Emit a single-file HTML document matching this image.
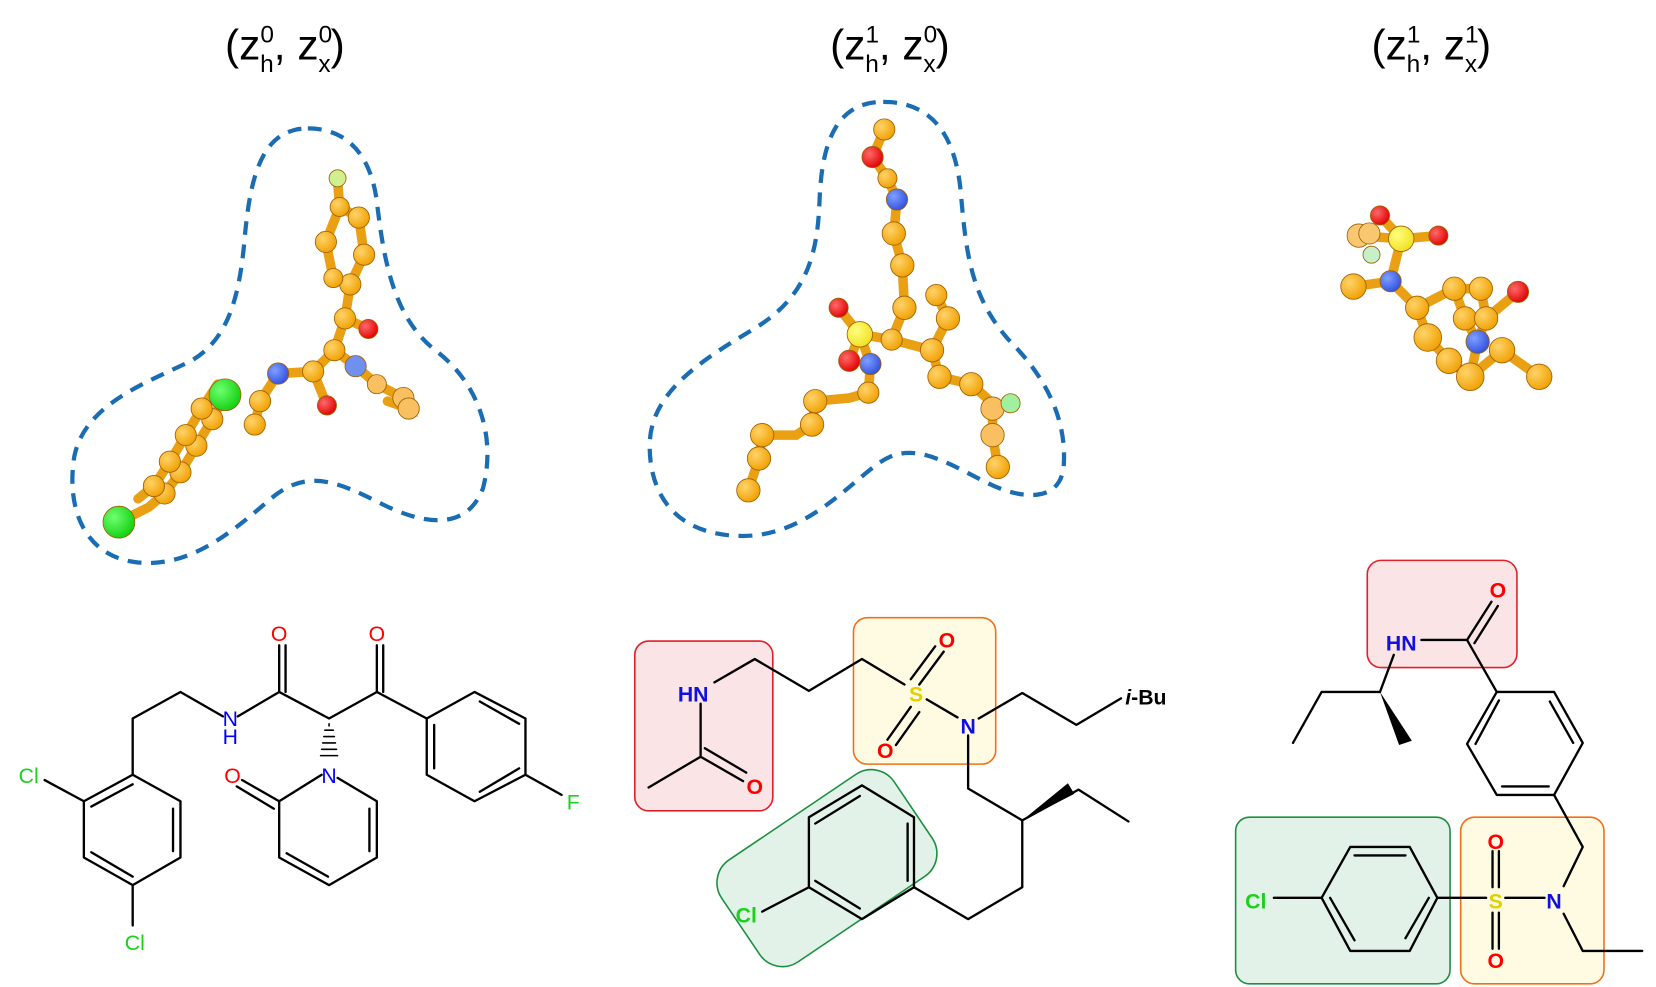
<!DOCTYPE html>
<html><head><meta charset="utf-8"><style>
html,body{margin:0;padding:0;background:#fff;width:1656px;height:987px;overflow:hidden}
svg{display:block}
.b{stroke:#000;stroke-width:2.2;fill:none;stroke-linecap:round;stroke-linejoin:round}
.t{font-family:"Liberation Sans",sans-serif}
.bd{stroke:#e9a012;stroke-width:9;stroke-linecap:round;fill:none}
</style></head><body>
<svg width="1656" height="987" viewBox="0 0 1560 930" preserveAspectRatio="none" xmlns="http://www.w3.org/2000/svg">
<defs>
<radialGradient id="go" cx="35%" cy="35%" r="70%"><stop offset="0" stop-color="#ffd36a"/><stop offset="1" stop-color="#f0a000"/></radialGradient>
<radialGradient id="gr" cx="35%" cy="35%" r="70%"><stop offset="0" stop-color="#ff6a6a"/><stop offset="1" stop-color="#e00000"/></radialGradient>
<radialGradient id="gb" cx="35%" cy="35%" r="70%"><stop offset="0" stop-color="#7fa0ff"/><stop offset="1" stop-color="#3050e0"/></radialGradient>
<radialGradient id="gg" cx="35%" cy="35%" r="70%"><stop offset="0" stop-color="#70ff70"/><stop offset="1" stop-color="#10d010"/></radialGradient>
<radialGradient id="gy" cx="35%" cy="35%" r="70%"><stop offset="0" stop-color="#ffff80"/><stop offset="1" stop-color="#f0e020"/></radialGradient>
</defs>

<!-- titles -->
<g fill="#000">
<text x="212" y="56" font-size="40" font-family="Liberation Sans, sans-serif">(z<tspan dy="-16" font-size="23">0</tspan><tspan dx="-13" dy="28" font-size="23">h</tspan><tspan dy="-12" font-size="40">, z</tspan><tspan dy="-16" font-size="23">0</tspan><tspan dx="-13" dy="28" font-size="23">x</tspan><tspan dy="-12" font-size="40">)</tspan></text>
<text x="782" y="56" font-size="40" font-family="Liberation Sans, sans-serif">(z<tspan dy="-16" font-size="23">1</tspan><tspan dx="-13" dy="28" font-size="23">h</tspan><tspan dy="-12" font-size="40">, z</tspan><tspan dy="-16" font-size="23">0</tspan><tspan dx="-13" dy="28" font-size="23">x</tspan><tspan dy="-12" font-size="40">)</tspan></text>
<text x="1292" y="56" font-size="40" font-family="Liberation Sans, sans-serif">(z<tspan dy="-16" font-size="23">1</tspan><tspan dx="-13" dy="28" font-size="23">h</tspan><tspan dy="-12" font-size="40">, z</tspan><tspan dy="-16" font-size="23">1</tspan><tspan dx="-13" dy="28" font-size="23">x</tspan><tspan dy="-12" font-size="40">)</tspan></text>
</g>

<!-- dashed blobs -->
<path d="M290,121 C330,121 350,150 355,190 C362,250 372,300 410,330 C450,360 468,410 455,460 C440,500 400,495 360,475 C320,455 290,440 255,470 C220,500 180,535 130,530 C80,525 62,480 70,430 C80,380 140,360 180,340 C215,320 225,280 230,230 C235,170 245,121 290,121 Z" fill="none" stroke="#1a6db3" stroke-width="4" stroke-dasharray="13 9"/>
<path d="M832,96 C880,96 900,130 905,180 C910,240 915,280 950,320 C990,360 1005,400 1002,440 C998,475 960,470 930,455 C890,435 860,415 830,435 C800,455 760,505 700,505 C640,505 612,470 612,420 C612,370 660,340 710,310 C760,280 770,240 772,190 C774,130 790,96 832,96 Z" fill="none" stroke="#1a6db3" stroke-width="4" stroke-dasharray="13 9"/>

<!-- 3D molecule 1 -->
<g>
<path class="bd" d="M318,170 L320,195 L338,205 L343,240 L330,268 L314,262 L307,228 L320,195 M330,268 L325,300 L347,310 M325,300 L315,330 L295,350 L308,382 M295,350 L262,352 L245,378 L240,400 M315,330 L335,345 L355,362 L380,375 L385,385 L365,378 M212,372 L200,395 L185,420 L170,445 L155,465 L140,478 L112,492 M205,362 L190,385 L175,410 L160,435 L145,458 L130,470"/>
<g stroke="#a06000" stroke-width="0.8">
<circle cx="320" cy="195" r="9" fill="url(#go)"/><circle cx="338" cy="205" r="10" fill="url(#go)"/><circle cx="343" cy="240" r="10" fill="url(#go)"/><circle cx="330" cy="268" r="10" fill="url(#go)"/><circle cx="314" cy="262" r="9" fill="url(#go)"/><circle cx="307" cy="228" r="10" fill="url(#go)"/>
<circle cx="325" cy="300" r="10" fill="url(#go)"/><circle cx="315" cy="330" r="10" fill="url(#go)"/><circle cx="295" cy="350" r="10" fill="url(#go)"/><circle cx="245" cy="378" r="10" fill="url(#go)"/><circle cx="240" cy="400" r="10" fill="url(#go)"/>
<circle cx="355" cy="362" r="9" fill="#f8c060"/><circle cx="380" cy="375" r="10" fill="#f8c060"/><circle cx="385" cy="385" r="10" fill="#f8c060"/>
<circle cx="200" cy="395" r="10" fill="url(#go)"/><circle cx="185" cy="420" r="10" fill="url(#go)"/><circle cx="170" cy="445" r="10" fill="url(#go)"/><circle cx="155" cy="465" r="10" fill="url(#go)"/><circle cx="190" cy="385" r="10" fill="url(#go)"/><circle cx="175" cy="410" r="10" fill="url(#go)"/><circle cx="160" cy="435" r="10" fill="url(#go)"/><circle cx="145" cy="458" r="10" fill="url(#go)"/>
<circle cx="318" cy="168" r="8" fill="#d0f090"/>
<circle cx="347" cy="310" r="9" fill="url(#gr)"/><circle cx="308" cy="382" r="9" fill="url(#gr)"/>
<circle cx="262" cy="352" r="10" fill="url(#gb)"/><circle cx="335" cy="345" r="10" fill="#7090f0"/>
<circle cx="212" cy="372" r="15" fill="url(#gg)"/><circle cx="112" cy="492" r="15" fill="url(#gg)"/>
</g>
</g>

<!-- 3D molecule 2 -->
<g>
<path class="bd" d="M833,122 L822,148 L836,168 L845,188 L842,220 L850,250 L852,290 L840,320 L810,315 L790,290 M810,315 L800,340 M810,315 L820,343 L818,370 L800,375 L768,378 L765,400 L750,410 L718,410 L715,432 L705,462 M840,320 L878,330 L893,300 L882,278 M878,330 L885,355 L915,362 L935,380 L935,410 L940,440"/>
<g stroke="#a06000" stroke-width="0.8">
<circle cx="833" cy="122" r="10" fill="url(#go)"/><circle cx="836" cy="168" r="9" fill="url(#go)"/><circle cx="842" cy="220" r="11" fill="url(#go)"/><circle cx="850" cy="250" r="11" fill="url(#go)"/><circle cx="852" cy="290" r="11" fill="url(#go)"/><circle cx="840" cy="320" r="10" fill="url(#go)"/><circle cx="878" cy="330" r="11" fill="url(#go)"/><circle cx="893" cy="300" r="11" fill="url(#go)"/><circle cx="882" cy="278" r="10" fill="url(#go)"/><circle cx="885" cy="355" r="11" fill="url(#go)"/><circle cx="915" cy="362" r="11" fill="url(#go)"/><circle cx="935" cy="385" r="11" fill="#f8c060"/><circle cx="935" cy="410" r="11" fill="#f8c060"/><circle cx="940" cy="440" r="11" fill="url(#go)"/>
<circle cx="818" cy="370" r="10" fill="url(#go)"/><circle cx="768" cy="378" r="11" fill="url(#go)"/><circle cx="765" cy="400" r="11" fill="url(#go)"/><circle cx="718" cy="410" r="11" fill="url(#go)"/><circle cx="715" cy="432" r="11" fill="url(#go)"/><circle cx="705" cy="462" r="11" fill="url(#go)"/>
<circle cx="952" cy="380" r="9" fill="#a0f0a0"/>
<circle cx="822" cy="148" r="10" fill="url(#gr)"/><circle cx="790" cy="290" r="9" fill="url(#gr)"/><circle cx="800" cy="340" r="10" fill="url(#gr)"/>
<circle cx="845" cy="188" r="10" fill="url(#gb)"/><circle cx="820" cy="343" r="10" fill="url(#gb)"/>
<circle cx="810" cy="315" r="12" fill="url(#gy)"/>
</g>
</g>

<!-- 3D molecule 3 -->
<g>
<path class="bd" d="M1300,203 L1320,225 L1355,222 M1280,222 L1320,225 L1310,265 L1275,270 M1310,265 L1335,290 L1370,272 L1395,272 L1400,300 L1430,275 M1335,290 L1345,318 L1365,340 L1385,355 L1415,330 L1450,355 M1370,272 L1380,300 L1392,322 L1385,355 M1400,300 L1392,322"/>
<g stroke="#a06000" stroke-width="0.8">
<circle cx="1280" cy="222" r="11" fill="#f8c870"/><circle cx="1292" cy="240" r="8" fill="#c8f0c8"/><circle cx="1290" cy="220" r="10" fill="#f8c870"/>
<circle cx="1275" cy="270" r="12" fill="url(#go)"/><circle cx="1335" cy="290" r="11" fill="url(#go)"/><circle cx="1370" cy="272" r="11" fill="url(#go)"/><circle cx="1395" cy="272" r="11" fill="url(#go)"/><circle cx="1380" cy="300" r="11" fill="url(#go)"/><circle cx="1400" cy="300" r="11" fill="url(#go)"/><circle cx="1345" cy="318" r="13" fill="url(#go)"/><circle cx="1365" cy="340" r="12" fill="url(#go)"/><circle cx="1385" cy="355" r="13" fill="url(#go)"/><circle cx="1415" cy="330" r="12" fill="url(#go)"/><circle cx="1450" cy="355" r="12" fill="url(#go)"/>
<circle cx="1300" cy="203" r="9" fill="url(#gr)"/><circle cx="1355" cy="222" r="9" fill="url(#gr)"/><circle cx="1430" cy="275" r="10" fill="url(#gr)"/>
<circle cx="1310" cy="265" r="10" fill="url(#gb)"/><circle cx="1392" cy="322" r="11" fill="url(#gb)"/>
<circle cx="1320" cy="225" r="12" fill="url(#gy)"/>
</g>
</g>

<!-- 2D molecule 1 -->
<g class="b">
<path d="M125,730 L125,677 L170,652 L210,675 M224,675 L263,652 L310,677 L355,652 L402,677 M263,652 L263,608 M269,652 L269,608 M355,652 L355,608 M361,652 L361,608"/>
<path d="M402,677 L447,652 L495,677 L495,730 L447,755 L402,730 Z M452,661 L489,682 M489,724 L452,746 M409,683 L409,724 M495,730 L529,749"/>
<path d="M125,730 L79,755 L79,808 L125,834 L170,808 L170,755 Z M125,739 L86,760 M163,762 L163,802 M86,803 L125,826 M79,755 L42,735 M125,834 L125,872"/>
<path d="M303,730 L263,755 L263,808 L310,834 L355,808 L355,755 L318,733 M270,804 L309,826 M348,762 L348,802 M263,755 L228,735 M258,762 L223,741"/>
<path d="M310,682 L310,684 M306,688 L314,688 M305,694 L315,694 M304,700 L316,700 M303,706 L317,706 M302,712 L318,712" stroke-width="1.5"/>
</g>
<g class="t" font-size="20" text-anchor="middle">
<text x="263" y="604" fill="#f00">O</text><text x="355" y="604" fill="#f00">O</text>
<text x="217" y="684" fill="#00f">N</text><text x="217" y="701" fill="#00f">H</text>
<text x="310" y="738" fill="#00f">N</text><text x="219" y="738" fill="#f00">O</text>
<text x="27" y="738" fill="#1bd11b">Cl</text><text x="127" y="895" fill="#1bd11b">Cl</text><text x="540" y="763" fill="#1bd11b">F</text>
</g>

<!-- 2D molecule 2 -->
<rect x="598" y="604" width="130" height="160" rx="13" fill="#fbe4e6" stroke="#e0202a" stroke-width="1.5"/>
<rect x="804" y="582" width="134" height="138" rx="13" fill="#fffbe2" stroke="#f07018" stroke-width="1.5"/>
<rect x="-98" y="-58" width="196" height="116" rx="26" transform="translate(779,818) rotate(-34)" fill="#e2f2e8" stroke="#1c9040" stroke-width="1.5"/>
<g class="b">
<path d="M673,643 L711,621 L762,651 L812,621 L852,645 M873,659 L902,676 M922,677 L963,653 L1014,683 L1056,658"/>
<path d="M660,663 L660,713 L611,742 M660,713 L700,736 M664,705 L703,728"/>
<path d="M858,640 L881,609 M866,645 L889,614 M858,666 L836,697 M866,671 L844,702"/>
<path d="M912,693 L912,743 L963,773 L963,836 L912,866 L861,836 M963,773 L1016,744 L1063,774"/>
<path d="M861,836 L861,770 L812,740 L762,770 L762,836 L812,866 Z M855,776 L855,830 M768,776 L810,750 M768,830 L810,856 M762,836 L718,859"/>
</g>
<path d="M963,773 L1006,738 L1012,748 Z" fill="#000"/>
<g class="t" font-size="20" font-weight="bold" text-anchor="middle">
<text x="653" y="661" fill="#1010e0">HN</text>
<text x="711" y="748" fill="#f00">O</text><text x="892" y="610" fill="#f00">O</text><text x="834" y="714" fill="#f00">O</text>
<text x="863" y="661" fill="#e0d000">S</text><text x="912" y="691" fill="#1010e0">N</text>
<text x="703" y="869" fill="#1bd11b">Cl</text>
<text x="1060" y="664" fill="#000" text-anchor="start"><tspan font-style="italic">i</tspan>-Bu</text>
</g>

<!-- 2D molecule 3 -->
<rect x="1288" y="528" width="141" height="101" rx="13" fill="#fbe4e6" stroke="#e0202a" stroke-width="1.5"/>
<rect x="1164" y="770" width="202" height="157" rx="13" fill="#e2f2e8" stroke="#1c9040" stroke-width="1.5"/>
<rect x="1376" y="770" width="135" height="157" rx="13" fill="#fffbe2" stroke="#f07018" stroke-width="1.5"/>
<g class="b">
<path d="M1339,603 L1382,603 L1410,652 M1382,603 L1405,567 M1389,606 L1411,571"/>
<path d="M1313,617 L1300,652 L1245,652 L1218,700"/>
<path d="M1410,652 L1464,652 L1491,700 L1464,749 L1410,749 L1382,701 Z M1412,660 L1390,701 M1460,661 L1482,700 M1415,741 L1459,741"/>
<path d="M1464,749 L1491,798 L1473,835 M1473,861 L1491,896 L1547,896"/>
<path d="M1354,846 L1400,846 M1418,846 L1455,846 M1406,836 L1406,802 M1412,836 L1412,802 M1406,860 L1406,894 M1412,860 L1412,894"/>
<path d="M1245,846 L1272,798 L1328,798 L1354,846 L1328,896 L1272,896 Z M1276,806 L1324,806 M1346,846 L1324,884 M1253,846 L1276,886 M1245,846 L1200,846"/>
</g>
<path d="M1300,652 L1318,702 L1330,698 Z" fill="#000"/>
<g class="t" font-size="20" font-weight="bold" text-anchor="middle">
<text x="1320" y="613" fill="#1010e0">HN</text>
<text x="1411" y="563" fill="#f00">O</text>
<text x="1409" y="800" fill="#f00">O</text><text x="1409" y="912" fill="#f00">O</text>
<text x="1409" y="856" fill="#e0d000">S</text><text x="1464" y="856" fill="#1010e0">N</text>
<text x="1183" y="856" fill="#1bd11b">Cl</text>
</g>
</svg>
</body></html>
